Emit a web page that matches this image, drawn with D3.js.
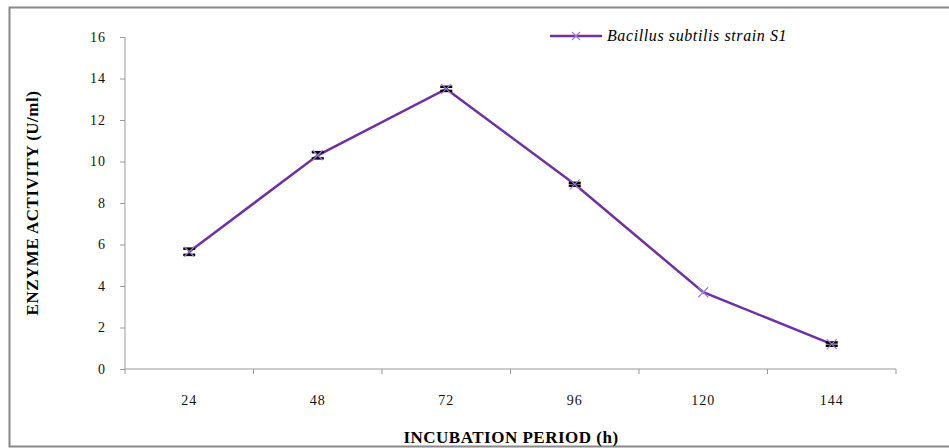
<!DOCTYPE html>
<html>
<head>
<meta charset="utf-8">
<script src="https://cdn.jsdelivr.net/npm/d3@7"></script>
<style>
  body { margin: 0; background: #fff; }
  svg text { font-family: "Liberation Serif", "DejaVu Serif", serif; }
</style>
</head>
<body>
<div id="chart"></div>
<script>
// data
var periods = ["24", "48", "72", "96", "120", "144"];
var activity = [5.65, 10.3, 13.5, 8.9, 3.7, 1.2];
var errors = [0.15, 0.15, 0.1, 0.07, 0, 0.08];
var yTicks = [0, 2, 4, 6, 8, 10, 12, 14, 16];
var seriesName = "Bacillus subtilis strain S1";

var W = 949, H = 448;
var margin = {top: 37, right: 53, bottom: 79, left: 125},
    width = W - margin.left - margin.right,
    height = H - margin.top - margin.bottom;

var lineColor = "#7030a0", markColor = "#a07cd0";

var svg = d3.select("#chart").append("svg")
    .attr("width", W).attr("height", H);

// outer frame
svg.append("rect")
    .attr("x", 9.5).attr("y", 7.5)
    .attr("width", W + 10).attr("height", 439)
    .attr("fill", "none").attr("stroke", "#888").attr("stroke-width", 2);

var g = svg.append("g")
    .attr("transform", "translate(" + margin.left + "," + margin.top + ")");

var x = d3.scaleBand().domain(periods).range([0, width]);
var y = d3.scaleLinear().domain([0, 16]).range([height, 0]);

// y axis
var yAxis = g.append("g")
    .call(d3.axisLeft(y).tickValues(yTicks).tickSize(5).tickPadding(14));
yAxis.select(".domain").attr("stroke", "#999").attr("d", "M0,0V" + height);
yAxis.selectAll(".tick line").attr("stroke", "#999");
yAxis.selectAll("text").style("font-size", "14px").attr("fill", "#111")
    .style("letter-spacing", "1px");

// x axis with ticks between categories
var xAxis = g.append("g").attr("transform", "translate(0," + height + ")");
xAxis.append("line").attr("x1", 0).attr("x2", width)
    .attr("stroke", "#999");
xAxis.selectAll(".tk").data(d3.range(periods.length + 1)).enter()
  .append("line")
    .attr("x1", function(i) { return i * x.step(); })
    .attr("x2", function(i) { return i * x.step(); })
    .attr("y1", 0).attr("y2", 5).attr("stroke", "#999");
xAxis.selectAll(".lbl").data(periods).enter()
  .append("text")
    .attr("x", function(d) { return x(d) + x.bandwidth() / 2; })
    .attr("y", 36)
    .attr("text-anchor", "middle")
    .style("font-size", "14px").style("letter-spacing", "1px")
    .attr("fill", "#111")
    .text(function(d) { return d; });

// axis titles
svg.append("text")
    .attr("x", 511).attr("y", 443)
    .attr("text-anchor", "middle")
    .style("font-size", "17px").style("font-weight", "bold")
    .style("letter-spacing", "0.5px")
    .text("INCUBATION PERIOD (h)");
svg.append("text")
    .attr("transform", "translate(38," + (margin.top + height / 2) + ") rotate(-90)")
    .attr("text-anchor", "middle")
    .style("font-size", "17px").style("font-weight", "bold")
    .style("letter-spacing", "0.5px")
    .text("ENZYME ACTIVITY (U/ml)");

var pts = periods.map(function(p, i) {
  return {p: p, v: activity[i], e: errors[i]};
});
var cx = function(d) { return x(d.p) + x.bandwidth() / 2; };

// line
g.append("path").datum(pts)
    .attr("fill", "none").attr("stroke", lineColor).attr("stroke-width", 2.5)
    .attr("d", d3.line().x(cx).y(function(d) { return y(d.v); }));

// error bars
var eb = g.selectAll(".eb").data(pts.filter(function(d) { return d.e > 0; }))
  .enter().append("g").attr("stroke", "#000").attr("stroke-width", 2.5);
eb.append("line")
    .attr("x1", cx).attr("x2", cx)
    .attr("y1", function(d) { return y(d.v - d.e); })
    .attr("y2", function(d) { return y(d.v + d.e); });
eb.append("line")
    .attr("x1", function(d) { return cx(d) - 6; }).attr("x2", function(d) { return cx(d) + 6; })
    .attr("y1", function(d) { return y(d.v - d.e); }).attr("y2", function(d) { return y(d.v - d.e); });
eb.append("line")
    .attr("x1", function(d) { return cx(d) - 6; }).attr("x2", function(d) { return cx(d) + 6; })
    .attr("y1", function(d) { return y(d.v + d.e); }).attr("y2", function(d) { return y(d.v + d.e); });

// x markers
var cross = "M-5,-5L5,5M-5,5L5,-5";
g.selectAll(".mk").data(pts).enter().append("path")
    .attr("transform", function(d) { return "translate(" + cx(d) + "," + y(d.v) + ")"; })
    .attr("d", cross)
    .attr("stroke", markColor).attr("stroke-width", 1.2).attr("fill", "none");

// legend
var lg = svg.append("g").attr("transform", "translate(550,36)");
lg.append("line").attr("x1", 0).attr("x2", 52)
    .attr("stroke", lineColor).attr("stroke-width", 2.5);
lg.append("path").attr("transform", "translate(26,0)").attr("d", "M-4,-4L4,4M-4,4L4,-4")
    .attr("stroke", markColor).attr("stroke-width", 1.2);
lg.append("text").attr("x", 57).attr("y", 5)
    .style("font-family", "'Liberation Serif', 'DejaVu Serif', serif")
    .style("font-size", "16px").style("font-style", "italic")
    .style("letter-spacing", "0.6px")
    .text(seriesName);
</script>
</body>
</html>
